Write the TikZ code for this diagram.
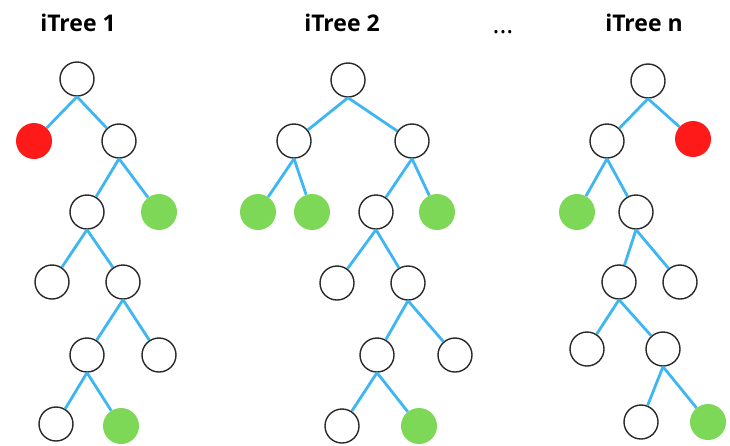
\documentclass[tikz,border=0pt]{standalone}
\usepackage{fontspec}
\setmainfont{Open Sans}
\definecolor{edgeblue}{RGB}{62,182,242}
\definecolor{leafgreen}{RGB}{126,216,88}
\definecolor{anomred}{RGB}{255,26,26}
\definecolor{ringgray}{RGB}{40,40,40}
\begin{document}
\begin{tikzpicture}[x=1pt,y=-1pt,
  inode/.style={circle,draw=ringgray,line width=1.4pt,fill=white,minimum size=34pt,inner sep=0pt},
  gnode/.style={circle,fill=leafgreen,minimum size=36pt,inner sep=0pt},
  rnode/.style={circle,fill=anomred,minimum size=36pt,inner sep=0pt},
  link/.style={edgeblue,line width=2.8pt},
  ttl/.style={font=\fontsize{23}{26}\selectfont\bfseries,anchor=base,inner sep=0pt}]
\useasboundingbox (0,0) rectangle (730,445);
% titles
\node[ttl] (t1) at (78,31) {iTree 1};
\node[ttl] (t2) at (342,31) {iTree 2};
\node[ttl] (tn) at (644,31) {iTree n};
\node[font=\fontsize{26}{30}\selectfont,anchor=base,inner sep=0pt] (dots) at (503,33) {...};
% tree 1
\node[inode] (a0) at (77,79) {};
\node[rnode] (a1) at (34,141) {};
\node[inode] (a2) at (119,141) {};
\node[inode] (a3) at (87,212) {};
\node[gnode] (a4) at (159,212) {};
\node[inode] (a5) at (52,282) {};
\node[inode] (a6) at (123,282) {};
\node[inode] (a7) at (87,355) {};
\node[inode] (a8) at (159,355) {};
\node[inode] (a9) at (56,424) {};
\node[gnode] (a10) at (121,426) {};
\foreach \p/\c in {a0/a1,a0/a2,a2/a3,a2/a4,a3/a5,a3/a6,a6/a7,a6/a8,a7/a9,a7/a10}
  \draw[link] (\p.south) -- (\c);
% tree 2
\node[inode] (b0) at (348,80) {};
\node[inode] (b1) at (294,141) {};
\node[inode] (b2) at (412,141) {};
\node[gnode] (b3) at (258,212) {};
\node[gnode] (b4) at (312,212) {};
\node[inode] (b5) at (376,212) {};
\node[gnode] (b6) at (437,212) {};
\node[inode] (b7) at (337,283) {};
\node[inode] (b8) at (408,283) {};
\node[inode] (b9) at (377,355) {};
\node[inode] (b10) at (455,355) {};
\node[inode] (b11) at (342,426) {};
\node[gnode] (b12) at (419,426) {};
\foreach \p/\c in {b0/b1,b0/b2,b1/b3,b1/b4,b2/b5,b2/b6,b5/b7,b5/b8,b8/b9,b8/b10,b9/b11,b9/b12}
  \draw[link] (\p.south) -- (\c);
% tree n
\node[inode] (c0) at (648,81) {};
\node[inode] (c1) at (607,141) {};
\node[rnode] (c2) at (693,139) {};
\node[gnode] (c3) at (577,212) {};
\node[inode] (c4) at (636,212) {};
\node[inode] (c5) at (619,282) {};
\node[inode] (c6) at (680,282) {};
\node[inode] (c7) at (587,349) {};
\node[inode] (c8) at (663,349) {};
\node[inode] (c9) at (641,422) {};
\node[gnode] (c10) at (708,422) {};
\foreach \p/\c in {c0/c1,c0/c2,c1/c3,c1/c4,c4/c5,c4/c6,c5/c7,c5/c8,c8/c9,c8/c10}
  \draw[link] (\p.south) -- (\c);
\end{tikzpicture}
\end{document}
